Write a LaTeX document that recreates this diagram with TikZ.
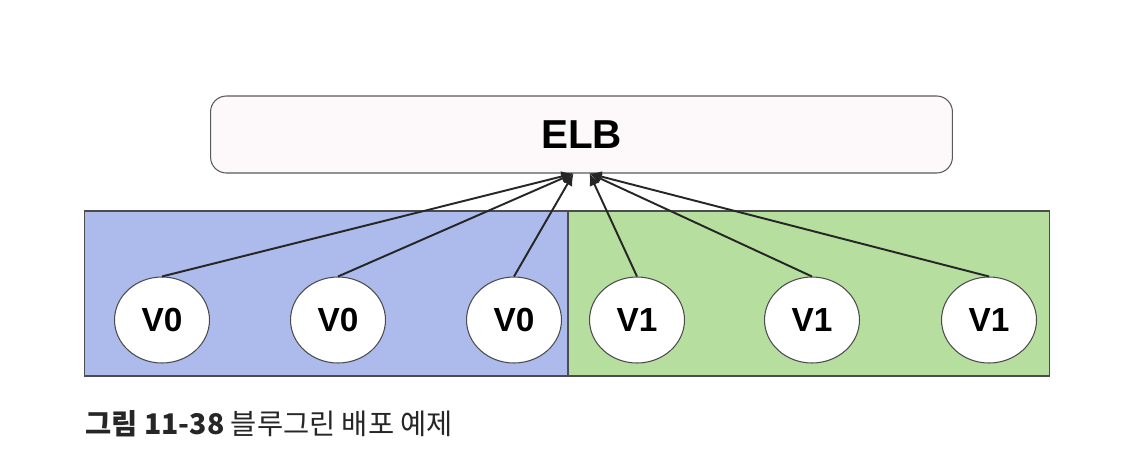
\documentclass[tikz,border=0pt]{standalone}
\usepackage{xcolor}
\usepackage{fontspec}
\setmainfont{Liberation Sans}
\newfontfamily\kofont{Noto Sans CJK KR}
\usepackage{tikz}
\usetikzlibrary{arrows.meta,shapes.geometric}

\definecolor{oldblue}{RGB}{172,186,236}
\definecolor{newgreen}{RGB}{182,222,158}
\definecolor{elbfill}{RGB}{253,248,250}

\begin{document}
\begin{tikzpicture}[x=0.02cm, y=-0.02cm,
        box/.style={draw=black!65, line width=0.6pt, rounded corners=9pt, minimum width=14.84cm, minimum height=1.54cm, fill=elbfill, font=\fontsize{23}{26}\selectfont\bfseries},
        zone/.style={draw=black!70, line width=0.6pt, minimum width=9.66cm, minimum height=3.3cm, inner sep=0pt},
        verbox/.style={draw=black!70, line width=0.6pt, ellipse, fill=white, minimum width=1.9cm, minimum height=1.72cm, inner sep=0pt, font=\fontsize{19}{22}\selectfont\bfseries},
        arrow/.style={-{Latex[length=0.24cm, width=0.22cm]}, line width=1.1pt, black!85}
    ]
        \useasboundingbox (0,0) rectangle (1146,468);

        \node[box] (elb) at (581.5,134.5) {ELB};

        \node[zone, fill=oldblue] (blue) at (326,293.5) {};
        \node[zone, fill=newgreen, minimum width=9.64cm] (green) at (809,293.5) {};

        \node[verbox] (v0a) at (162,320) {V0};
        \node[verbox] (v0b) at (338,320) {V0};
        \node[verbox] (v0c) at (514,320) {V0};
        \node[verbox] (v1a) at (637,320) {V1};
        \node[verbox] (v1b) at (812,320) {V1};
        \node[verbox] (v1c) at (989,320) {V1};

        \draw[arrow] (v0a.north) -- ([xshift=-0.16cm]elb.south);
        \draw[arrow] (v0b.north) -- ([xshift=-0.16cm]elb.south);
        \draw[arrow] (v0c.north) -- ([xshift=-0.16cm]elb.south);
        \draw[arrow] (v1a.north) -- ([xshift=0.16cm]elb.south);
        \draw[arrow] (v1b.north) -- ([xshift=0.16cm]elb.south);
        \draw[arrow] (v1c.north) -- ([xshift=0.16cm]elb.south);

        \node[anchor=west, inner sep=0pt, font=\kofont\fontsize{16.2}{18}\selectfont, text=black!85] (caption) at (85,424) {{\bfseries 그림 11-38} 블루그린 배포 예제};
    \end{tikzpicture}
\end{document}
